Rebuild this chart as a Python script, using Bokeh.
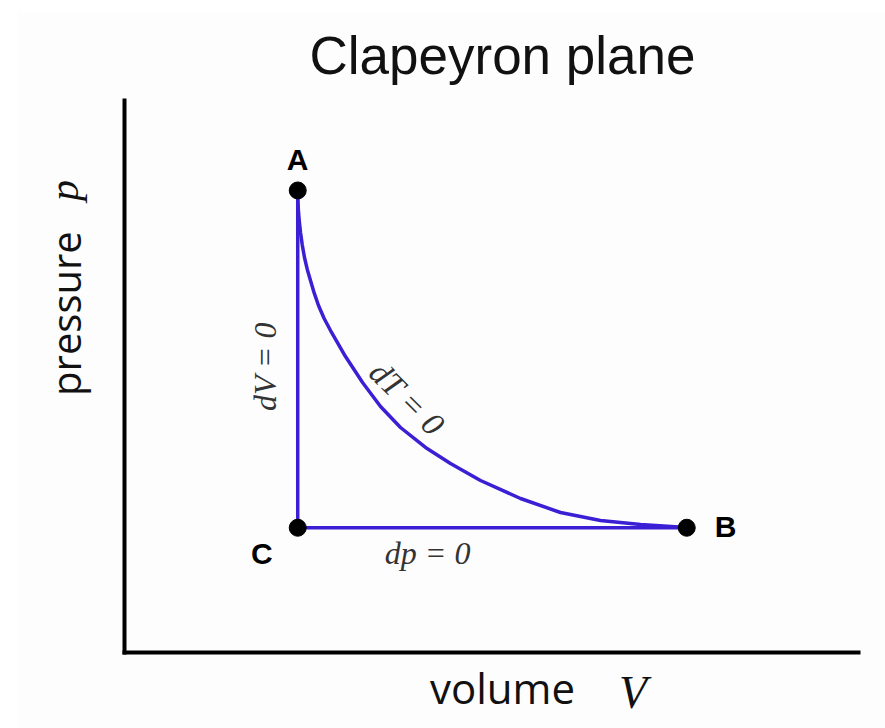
from bokeh.plotting import figure
from bokeh.models import Range1d, Label, LinearAxis, FixedTicker
from bokeh.embed import file_html
from bokeh.resources import INLINE

# Key states on the p-V diagram (V, p), in arbitrary units
state_names = ["A", "B", "C"]
state_V = [2.36, 7.66, 2.36]
state_p = [8.37, 2.26, 2.26]

# Isotherm A -> B
iso_V = [2.357, 2.362, 2.371, 2.383, 2.398, 2.422, 2.452, 2.490, 2.534, 2.585,
         2.643, 2.720, 2.807, 3.011, 3.243, 3.488, 3.760, 4.101, 4.441, 4.850,
         5.395, 5.940, 6.485, 7.030, 7.657]
iso_p = [8.370, 8.170, 7.971, 7.790, 7.609, 7.380, 7.156, 6.940, 6.739, 6.510,
         6.286, 6.050, 5.833, 5.362, 4.891, 4.457, 4.076, 3.714, 3.424, 3.116,
         2.790, 2.536, 2.391, 2.319, 2.264]

# Isochore A -> C and isobar C -> B
isochore_V = [2.36, 2.36]
isochore_p = [8.37, 2.26]
isobar_V = [2.36, 7.66]
isobar_p = [2.26, 2.26]

BLUE = "#3a1fd4"
BG = "#fdfdfd"

p = figure(width=868, height=716, output_backend="svg", toolbar_location=None,
           x_range=Range1d(-1.458, 10.368), y_range=Range1d(-1.377, 11.594),
           x_axis_type=None, y_axis_type=None, min_border=0,
           background_fill_color=BG, border_fill_color=BG,
           outline_line_color=None)
p.margin = (12, 0, 0, 17)
p.grid.visible = False

# Bare axes crossing at the origin, no ticks or tick labels
for side in ("below", "left"):
    ax = LinearAxis(fixed_location=0, bounds=(0, 10),
                    ticker=FixedTicker(ticks=[]),
                    axis_line_width=4, axis_line_color="black",
                    axis_line_cap="square",
                    major_tick_line_color=None, minor_tick_line_color=None,
                    major_label_text_font_size="0px")
    p.add_layout(ax, side)

p.line(iso_V, iso_p, line_color=BLUE, line_width=3.5, line_join="round")
p.line(isochore_V, isochore_p, line_color=BLUE, line_width=3.5)
p.line(isobar_V, isobar_p, line_color=BLUE, line_width=3.5)
p.scatter(state_V, state_p, size=17, fill_color="black", line_color="black")


def add_label(**kw):
    kw.setdefault("text_align", "center")
    kw.setdefault("text_baseline", "middle")
    p.add_layout(Label(**kw))


# Title
add_label(x=5.15, y=10.82, text="Clapeyron plane", text_font="Liberation Sans",
          text_font_size="53px", text_color="#111111")

# Axis captions
add_label(x=-0.81, y=6.14, text="pressure", angle=1.5708, text_font="Open Sans",
          text_font_size="40px", text_color="#111111")
add_label(x=-0.82, y=8.37, text="p", angle=1.5708, text_font="Liberation Serif",
          text_font_style="italic", text_font_size="42px", text_color="#111111")
add_label(x=5.15, y=-0.64, text="volume", text_font="Open Sans",
          text_font_size="42px", text_color="#111111")
add_label(x=6.93, y=-0.72, text="V", text_font="Liberation Serif",
          text_font_style="italic", text_font_size="46px", text_color="#111111")

# State letters
letter_pos = {"A": (2.357, 8.93), "B": (8.19, 2.28), "C": (1.87, 1.79)}
for name in state_names:
    lx, ly = letter_pos[name]
    add_label(x=lx, y=ly, text=name, text_font="Liberation Sans",
              text_font_style="bold", text_font_size="30px", text_color="black")

# Process annotations
add_label(x=4.13, y=1.81, text="dp = 0", text_font="Liberation Serif",
          text_font_style="italic", text_font_size="32px", text_color="#333333")
add_label(x=1.92, y=5.18, text="dV = 0", angle=1.5708, text_font="Liberation Serif",
          text_font_style="italic", text_font_size="32px", text_color="#333333")
add_label(x=3.85, y=4.60, text="dT = 0", angle=-0.78, text_font="Liberation Serif",
          text_font_style="italic", text_font_size="33px", text_color="#333333")

html = file_html(p, INLINE)
html = html.replace("<body>", '<body style="margin:0;background:#f0f0f0">', 1)
open("out.html", "w").write(html)
